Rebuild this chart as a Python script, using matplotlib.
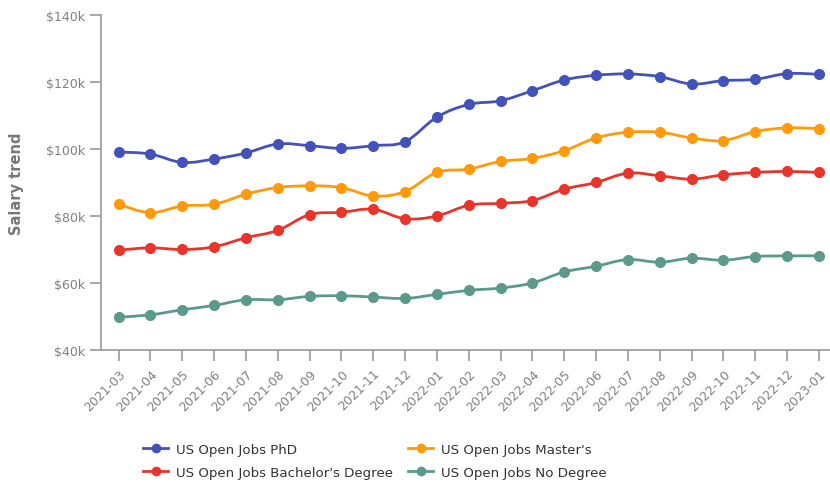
import numpy as np
import matplotlib
matplotlib.use('Agg')
import matplotlib.pyplot as plt
from matplotlib.path import Path
from matplotlib.patches import PathPatch
from matplotlib.lines import Line2D
from matplotlib.ticker import FuncFormatter

plt.rcParams['font.family'] = ['DejaVu Sans']

# 月份
months = ['2021-03', '2021-04', '2021-05', '2021-06', '2021-07', '2021-08',
          '2021-09', '2021-10', '2021-11', '2021-12', '2022-01', '2022-02',
          '2022-03', '2022-04', '2022-05', '2022-06', '2022-07', '2022-08',
          '2022-09', '2022-10', '2022-11', '2022-12', '2023-01']

# 薪資 (千美元)
phd = [99.1, 98.5, 96.0, 97.0, 98.8, 101.5, 101.0, 100.2, 101.0, 102.2, 109.5, 113.3,
       114.4, 117.4, 120.6, 122.0, 122.4, 121.6, 119.4, 120.4, 120.8, 122.5, 122.3]
masters = [83.5, 81.0, 83.0, 83.5, 86.5, 88.5, 89.0, 88.5, 86.0, 87.3, 93.0, 94.0,
           96.3, 97.2, 99.5, 103.3, 105.0, 105.0, 103.3, 102.5, 105.2, 106.3, 106.1]
bachelors = [69.8, 70.5, 70.0, 70.8, 73.5, 75.7, 80.4, 81.1, 82.0, 79.2, 80.0, 83.2,
             83.8, 84.6, 88.0, 90.0, 92.8, 92.0, 91.0, 92.3, 93.0, 93.3, 93.0]
no_degree = [49.8, 50.5, 52.0, 53.3, 55.0, 55.0, 56.0, 56.2, 55.8, 55.4, 56.6, 57.8,
             58.5, 60.0, 63.3, 65.0, 67.0, 66.2, 67.4, 66.8, 67.9, 68.1, 68.1]

series = [
    ('US Open Jobs PhD', phd, '#4352b9'),
    ("US Open Jobs Master's", masters, '#ff9a0a'),
    ("US Open Jobs Bachelor's Degree", bachelors, '#e8342a'),
    ('US Open Jobs No Degree', no_degree, '#5b9a8a'),
]


def spline_path(x, y, k=0.18):
    # 平滑曲線 (僅繪圖用)
    x = np.asarray(x, float)
    y = np.asarray(y, float)
    verts = [(x[0], y[0])]
    codes = [Path.MOVETO]
    n = len(x)
    for i in range(n - 1):
        x0, y0 = (x[i - 1], y[i - 1]) if i > 0 else (x[i], y[i])
        x3, y3 = (x[i + 2], y[i + 2]) if i + 2 < n else (x[i + 1], y[i + 1])
        c1 = (x[i] + (x[i + 1] - x0) * k, y[i] + (y[i + 1] - y0) * k)
        c2 = (x[i + 1] - (x3 - x[i]) * k, y[i + 1] - (y3 - y[i]) * k)
        verts += [c1, c2, (x[i + 1], y[i + 1])]
        codes += [Path.CURVE4, Path.CURVE4, Path.CURVE4]
    return Path(verts, codes)


fig = plt.figure(figsize=(8.3, 4.85), dpi=100)
ax = fig.add_axes([0.1217, 0.2763, 0.8783, 0.6907])

x = np.arange(len(months))
handles = []
for name, vals, color in series:
    ax.add_patch(PathPatch(spline_path(x, vals), facecolor='none', edgecolor=color, lw=2, zorder=2))
    ax.plot(x, vals, 'o', color=color, ms=8, mec='none', zorder=3)
    handles.append(Line2D([0], [0], color=color, lw=2, marker='o', ms=7, mec='none', label=name))

ax.set_xlim(-0.55, 22.35)
ax.set_ylim(40, 140)
ax.set_yticks(range(40, 141, 20))
ax.yaxis.set_major_formatter(FuncFormatter(lambda v, p: '$%dk' % v))
ax.set_xticks(x)
ax.set_xticklabels(months, rotation=45, ha='right', rotation_mode='anchor')

for s in ['top', 'right']:
    ax.spines[s].set_visible(False)
for s in ['left', 'bottom']:
    ax.spines[s].set_color('#999999')
    ax.spines[s].set_linewidth(1.2)
ax.tick_params(axis='both', colors='#999999', labelcolor='#808080', length=8, width=1.2, labelsize=9)
ax.tick_params(axis='x', pad=4)

ax.set_ylabel('Salary trend', fontsize=10.5, fontweight='bold', color='#777777', labelpad=16)

fig.legend(handles=handles[:1] + handles[2:3] + handles[1:2] + handles[3:], ncol=2,
           loc='lower left', bbox_to_anchor=(0.158, -0.014), frameon=False,
           fontsize=9.6, handlelength=1.9, columnspacing=1.1, labelspacing=0.75,
           handletextpad=0.6, labelcolor='#333333')

fig.savefig('out.png', dpi=100)
